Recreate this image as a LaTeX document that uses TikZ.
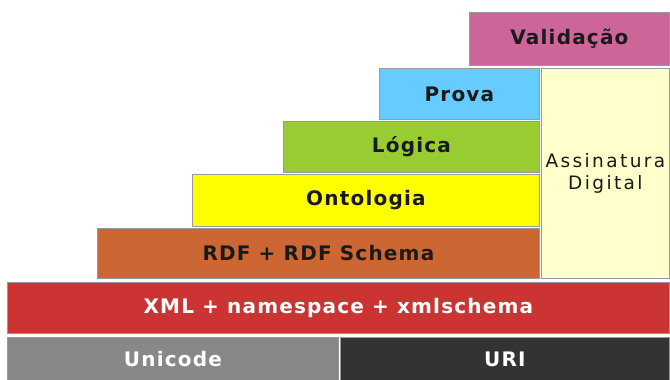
\documentclass[tikz,border=0pt]{standalone}
\usepackage{fontspec}
\setmainfont{DejaVu Sans}
\newfontfamily\layerfont[LetterSpace=6,BoldFont={DejaVu Sans Bold}]{DejaVu Sans}
\newfontfamily\sidefont[LetterSpace=13]{DejaVu Sans}

\definecolor{cValid}{RGB}{204,102,153}
\definecolor{cProva}{RGB}{102,204,255}
\definecolor{cLogica}{RGB}{153,204,51}
\definecolor{cOnto}{RGB}{255,255,0}
\definecolor{cRdf}{RGB}{204,102,51}
\definecolor{cXml}{RGB}{204,51,51}
\definecolor{cUni}{RGB}{136,136,136}
\definecolor{cUri}{RGB}{51,51,51}
\definecolor{cAssin}{RGB}{255,255,204}
\definecolor{cText}{RGB}{26,26,26}

\tikzset{
  layer/.style={draw=black!40, line width=0.8pt, inner sep=0pt, anchor=north west,
    font=\layerfont\bfseries\fontsize{20}{22}\selectfont, text=cText},
  lighttext/.style={text=white},
  sidebox/.style={layer, font=\sidefont\fontsize{18.5}{22.5}\selectfont, align=center}
}

\begin{document}
\begin{tikzpicture}[x=1pt, y=-1pt]
  \useasboundingbox (0,0) rectangle (670,380);

  % top of the stack
  \node[layer, fill=cValid, minimum width=200pt, minimum height=53pt] (valid) at (469,12) {Validação};
  \node[layer, fill=cProva, minimum width=160pt, minimum height=51pt] (prova) at (379,68) {Prova};
  \node[layer, fill=cLogica, minimum width=256pt, minimum height=51pt] (logica) at (283,121) {Lógica};
  \node[layer, fill=cOnto, minimum width=347pt, minimum height=52pt] (onto) at (192,174) {Ontologia};
  \node[layer, fill=cRdf, minimum width=442pt, minimum height=50pt] (rdf) at (97,228) {RDF + RDF Schema};

  % side column
  \node[sidebox, fill=cAssin, minimum width=128pt, minimum height=210pt] (assin) at (541,68) {Assinatura\\Digital};

  % base layers
  \node[layer, lighttext, fill=cXml, minimum width=662pt, minimum height=51pt] (xml) at (7,282) {XML + namespace + xmlschema};
  \node[layer, lighttext, fill=cUni, minimum width=331pt, minimum height=44pt] (unicode) at (7,337) {Unicode};
  \node[layer, lighttext, fill=cUri, minimum width=329pt, minimum height=44pt] (uri) at (340,337) {URI};
\end{tikzpicture}
\end{document}
